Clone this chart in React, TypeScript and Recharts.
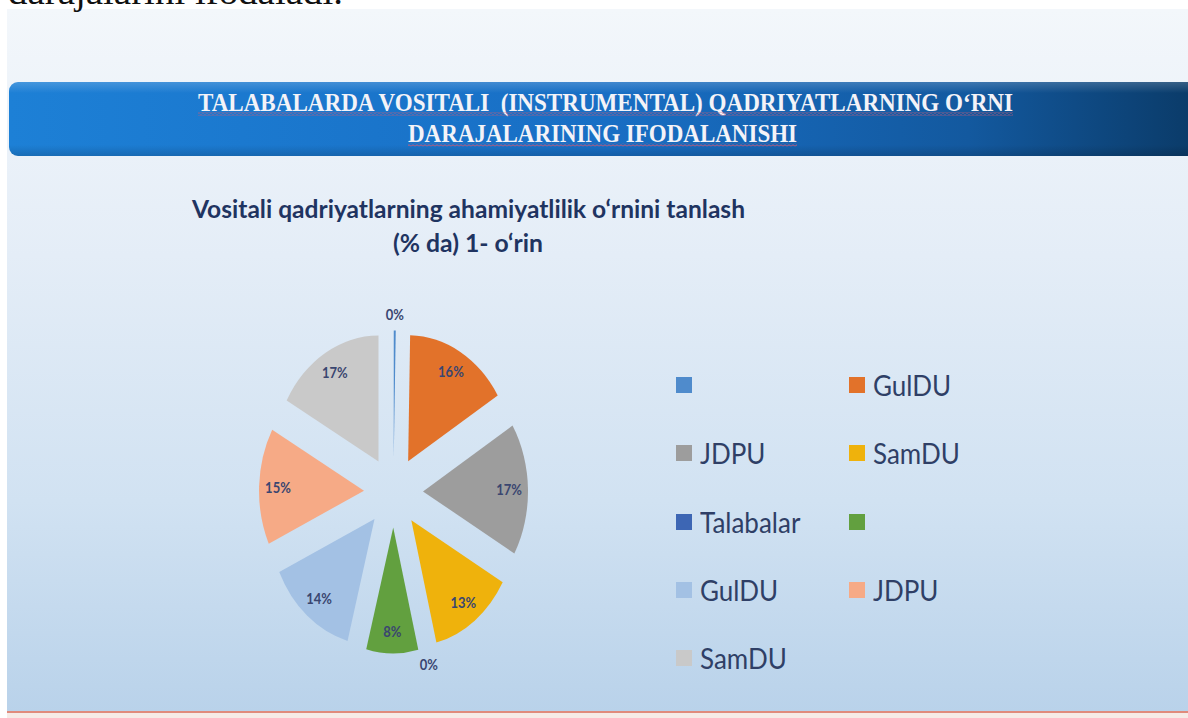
import React from 'react';
import { PieChart, Pie, Cell, Sector, Legend, Tooltip } from 'recharts';

// ---- data ----
const categories = ['', 'GulDU', 'JDPU', 'SamDU', 'Talabalar', '', 'GulDU', 'JDPU', 'SamDU'];
const shares = [0.3, 16, 17, 13, 0, 8, 14, 15, 17];
const sliceColors = ['#4f8bcc', '#e2722a', '#9d9d9d', '#efb20c', '#3d66b4', '#62a03f', '#a3c1e4', '#f6aa86', '#c9c9c9'];
const bannerLines = ['TALABALARDA VOSITALI  (INSTRUMENTAL) QADRIYATLARNING O‘RNI', 'DARAJALARINING IFODALANISHI'];
const chartTitleLines = ['Vositali qadriyatlarning ahamiyatlilik o‘rnini tanlash', '(% da) 1- o‘rin'];
const topText = 'darajalarini ifodaladi.';

const pieData = categories.map((name, i) => ({ name, value: shares[i] }));

const RAD = Math.PI / 180;
const EXPLODE = 29.5;
const STRETCH = 1.2;

function ExplodedSector(props: any) {
  const { cx, cy, midAngle, innerRadius, outerRadius, startAngle, endAngle, fill } = props;
  const dx = EXPLODE * Math.cos(-midAngle * RAD);
  const dy = EXPLODE * Math.sin(-midAngle * RAD);
  return (
    <g transform={`translate(0 ${cy}) scale(1 ${STRETCH}) translate(0 ${-cy})`}>
      <Sector
        cx={cx + dx}
        cy={cy + dy}
        innerRadius={innerRadius}
        outerRadius={outerRadius}
        startAngle={startAngle}
        endAngle={endAngle}
        fill={fill}
        stroke="none"
      />
    </g>
  );
}

function renderLabel(props: any) {
  const { cx, cy, midAngle, outerRadius, value } = props;
  const small = value < 1;
  const r = small ? outerRadius + EXPLODE + 13.5 : EXPLODE + outerRadius * 0.82;
  const x = cx + r * Math.cos(-midAngle * RAD);
  const y = cy + r * Math.sin(-midAngle * RAD) * STRETCH;
  return (
    <text
      x={x}
      y={y}
      textAnchor="middle"
      dominantBaseline="central"
      fill="#3a4670"
      fontFamily="Lato, 'Open Sans', sans-serif"
      fontWeight={700}
      fontSize={13}
      transform={`translate(0 ${y}) scale(1 1.15) translate(0 ${-y})`}
    >
      {`${Math.round(value)}%`}
    </text>
  );
}

function renderLegend(props: any) {
  const payload = props.payload || [];
  // keep the data order (one entry per slice, matched by its colour)
  const ordered = sliceColors
    .map((c, i) => {
      const entry = payload.find((p: any) => p.color === c);
      return entry ? { color: entry.color, label: categories[i] } : null;
    })
    .filter(Boolean) as { color: string; label: string }[];
  return (
    <div style={{ position: 'relative', width: 340, height: 310 }}>
      {ordered.map((entry, i) => {
        const row = Math.floor(i / 2);
        const col = i % 2;
        return (
          <div
            key={i}
            style={{
              position: 'absolute',
              left: col * 173,
              top: row * 68.25,
              height: 30,
              display: 'flex',
              alignItems: 'center',
              whiteSpace: 'nowrap',
            }}
          >
            <span style={{ display: 'inline-block', width: 16, height: 16, background: entry.color, marginRight: 8 }} />
            <span
              style={{
                fontFamily: "Lato, 'Open Sans', sans-serif",
                fontSize: 26,
                color: '#2f3f66',
                display: 'inline-block',
                transform: 'scaleY(1.08)',
                lineHeight: '30px',
              }}
            >
              {entry.label}
            </span>
          </div>
        );
      })}
    </div>
  );
}

function Backdrop() {
  return (
    <svg width={1188} height={718} style={{ position: 'absolute', left: 0, top: 0 }}>
      <defs>
        <linearGradient id="slideBg" x1="0" y1="0" x2="0" y2="1">
          <stop offset="0" stopColor="#f3f7fb" />
          <stop offset="0.35" stopColor="#e4edf7" />
          <stop offset="0.7" stopColor="#d1e2f2" />
          <stop offset="1" stopColor="#b9d2ea" />
        </linearGradient>
        <linearGradient id="bannerBg" x1="0" y1="0" x2="1" y2="0">
          <stop offset="0" stopColor="#1d80d6" />
          <stop offset="0.5" stopColor="#186ec4" />
          <stop offset="0.8" stopColor="#13599f" />
          <stop offset="1" stopColor="#0a3965" />
        </linearGradient>
        <linearGradient id="bannerShade" x1="0" y1="0" x2="0" y2="1">
          <stop offset="0" stopColor="#ffffff" stopOpacity="0.18" />
          <stop offset="0.15" stopColor="#ffffff" stopOpacity="0" />
          <stop offset="0.85" stopColor="#000000" stopOpacity="0" />
          <stop offset="1" stopColor="#000000" stopOpacity="0.15" />
        </linearGradient>
        <pattern id="wavy" width="4" height="3" patternUnits="userSpaceOnUse">
          <path d="M0 1.5 Q1 0 2 1.5 T4 1.5" stroke="#c45a78" strokeWidth="1" fill="none" />
        </pattern>
      </defs>
      <rect x={0} y={0} width={1188} height={718} fill="#ffffff" />
      <rect x={7} y={9} width={1181} height={703} fill="url(#slideBg)" />
      <line x1={7} y1={712} x2={1188} y2={712} stroke="#e08b7c" strokeWidth={2} />
      <rect x={7} y={713} width={1181} height={5} fill="#f6ebe7" />
      <text
        x={8}
        y={4}
        fontFamily="'Liberation Serif', 'DejaVu Serif', serif"
        fontSize={36}
        fill="#111111"
        textLength={335}
        lengthAdjust="spacingAndGlyphs"
      >
        {topText}
      </text>
      <rect x={9} y={82} width={1200} height={74} rx={9} fill="url(#bannerBg)" />
      <rect x={9} y={82} width={1200} height={74} rx={9} fill="url(#bannerShade)" />
      <text
        x={198}
        y={111}
        fontFamily="'Liberation Serif', 'DejaVu Serif', serif"
        fontWeight={700}
        fontSize={23}
        fill="#f3f3f8"
        textLength={815}
        lengthAdjust="spacingAndGlyphs"
        transform="translate(0 111) scale(1 1.12) translate(0 -111)"
        style={{ whiteSpace: 'pre' }}
      >
        {bannerLines[0]}
      </text>
      <rect x={198} y={112.5} width={815} height={3} fill="url(#wavy)" />
      <text
        x={408}
        y={142}
        fontFamily="'Liberation Serif', 'DejaVu Serif', serif"
        fontWeight={700}
        fontSize={23}
        fill="#f3f3f8"
        textLength={389}
        lengthAdjust="spacingAndGlyphs"
        transform="translate(0 142) scale(1 1.12) translate(0 -142)"
      >
        {bannerLines[1]}
      </text>
      <rect x={408} y={143.5} width={389} height={3} fill="url(#wavy)" />
      <text
        x={192}
        y={218}
        fontFamily="Lato, 'Open Sans', sans-serif"
        fontWeight={700}
        fontSize={22}
        fill="#1f3461"
        textLength={553}
        lengthAdjust="spacingAndGlyphs"
        transform="translate(0 218) scale(1 1.1) translate(0 -218)"
      >
        {chartTitleLines[0]}
      </text>
      <text
        x={393}
        y={252}
        fontFamily="Lato, 'Open Sans', sans-serif"
        fontWeight={700}
        fontSize={22}
        fill="#1f3461"
        textLength={150}
        lengthAdjust="spacingAndGlyphs"
        transform="translate(0 252) scale(1 1.1) translate(0 -252)"
      >
        {chartTitleLines[1]}
      </text>
    </svg>
  );
}

export default function App() {
  return (
    <div style={{ position: 'absolute', left: 0, top: 0, width: 1188, height: 718, overflow: 'hidden' }}>
      <Backdrop />
      <PieChart width={1188} height={718} style={{ position: 'absolute', left: 0, top: 0 }} margin={{ top: 0, right: 0, bottom: 0, left: 0 }}>
        <Pie
          data={pieData}
          dataKey="value"
          nameKey="name"
          cx={393.5}
          cy={492}
          outerRadius={105}
          innerRadius={0}
          startAngle={90}
          endAngle={-270}
          stroke="none"
          label={renderLabel}
          labelLine={false}
          shape={ExplodedSector}
          activeShape={ExplodedSector}
          inactiveShape={ExplodedSector}
          isAnimationActive={false}
        >
          {pieData.map((d, i) => (
            <Cell key={i} fill={sliceColors[i]} />
          ))}
        </Pie>
        <Tooltip defaultIndex={0} content={() => null} cursor={false} isAnimationActive={false} />
        <Legend
          content={renderLegend}
          wrapperStyle={{ position: 'absolute', left: 676, top: 370, width: 340, height: 310 }}
        />
      </PieChart>
    </div>
  );
}
